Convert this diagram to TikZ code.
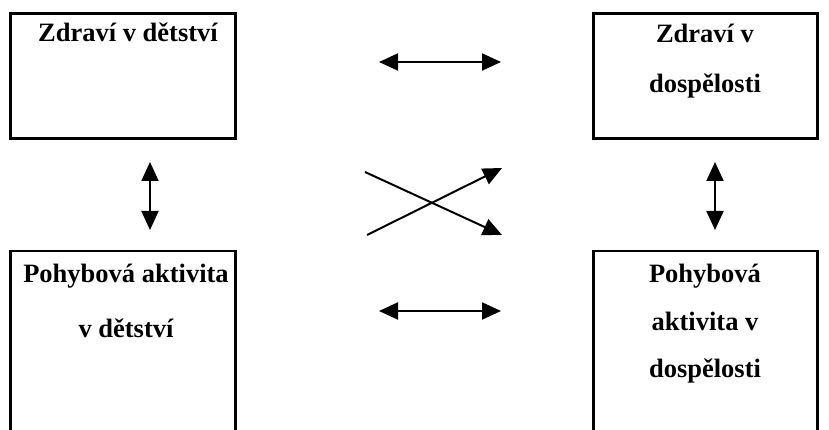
\documentclass[tikz,border=0pt]{standalone}
\usepackage{fontspec}
\setmainfont{Liberation Serif}
\usetikzlibrary{arrows.meta}
\begin{document}
\begin{tikzpicture}[x=1pt,y=-1pt,
  box/.style={draw,line width=2.6pt,inner sep=0pt},
  txt/.style={anchor=base,inner sep=0pt,font=\bfseries\fontsize{26.5}{32}\selectfont},
  tip/.tip={Triangle[length=19pt,width=17pt]},
  link/.style={line width=2pt,-tip},
  dlink/.style={line width=2pt,tip-tip}]
\useasboundingbox (0,0) rectangle (829,430);
% boxes
\node[box,minimum width=225pt,minimum height=125pt] (tl) at (123,76) {};
\node[box,minimum width=224pt,minimum height=125pt] (tr) at (705.5,76) {};
\node[box,minimum width=225pt,minimum height=210pt] (bl) at (123,356) {};
\node[box,minimum width=224pt,minimum height=210pt] (br) at (705.5,356) {};
% texts
\node[txt] (tl1) at (128,42) {Zdraví v dětství};
\node[txt] (tr1) at (705,43) {Zdraví v};
\node[txt] (tr2) at (705,93) {dospělosti};
\node[txt] (bl1) at (126,282) {Pohybová aktivita};
\node[txt] (bl2) at (126,337) {v dětství};
\node[txt] (br1) at (705,282) {Pohybová};
\node[txt] (br2) at (705,330) {aktivita v};
\node[txt] (br3) at (705,377) {dospělosti};
% arrow end points
\coordinate (h1a) at (379,62);
\coordinate (h1b) at (501,62);
\coordinate (h2a) at (379,311);
\coordinate (h2b) at (501,311);
\coordinate (v1a) at (150,162);
\coordinate (v1b) at (150,230);
\coordinate (v2a) at (715,162);
\coordinate (v2b) at (715,230);
\coordinate (xa) at (365,172);
\coordinate (xb) at (502,235);
\coordinate (ya) at (367,235);
\coordinate (yb) at (502,168);
% arrows
\draw[dlink] (h1a) -- (h1b);
\draw[dlink] (h2a) -- (h2b);
\draw[dlink] (v1a) -- (v1b);
\draw[dlink] (v2a) -- (v2b);
\draw[link] (xa) -- (xb);
\draw[link] (ya) -- (yb);
\end{tikzpicture}
\end{document}
